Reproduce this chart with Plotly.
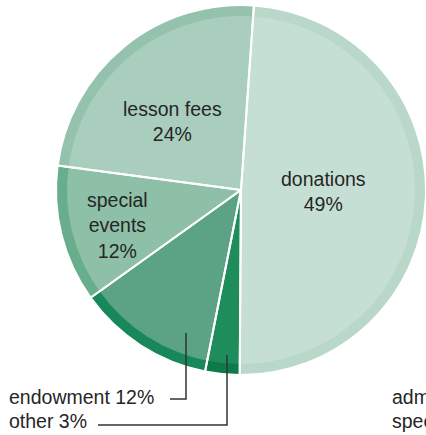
import plotly.graph_objects as go

# ---- data ----
labels = ["donations", "other", "endowment", "special events", "lesson fees"]
values = [49, 3, 12, 12, 24]
inside_text = ["donations<br>49%", None, None, "special<br>events<br>12%", "lesson fees<br>24%"]
callout_text = {"endowment": "endowment 12%", "other": "other 3%"}
cut_labels = ["administration", "special"]

# ---- styles ----
W, H = 426, 435
CX, CY, R = 241, 190, 185
RIM = 11
main_colors = ["#c6dfd4", "#1f8d5b", "#5ba384", "#8dc0a7", "#a9cebd"]
rim_colors = ["#b9d8ca", "#0d7b49", "#18885a", "#68ae8c", "#94c2ac"]
FONT = "Liberation Sans"
FS = 19.5
TXT = "#262626"
label_pos = {"donations": (323, 191), "special events": (117, 226), "lesson fees": (172, 121)}
ROT = 4

def px_x(x):
    return x / W

def px_y(y):
    return 1 - y / H

def dom(r):
    return dict(x=[px_x(CX - r), min(1.0, px_x(CX + r))], y=[px_y(CY + r), px_y(CY - r)])

fig = go.Figure()
common = dict(labels=labels, values=values, sort=False, direction="clockwise",
              rotation=ROT, textinfo="none", hoverinfo="label+percent", showlegend=False)
fig.add_trace(go.Pie(**common, domain=dom(R), marker=dict(colors=rim_colors, line=dict(width=0))))
fig.add_trace(go.Pie(**common, domain=dom(R - RIM), marker=dict(colors=main_colors, line=dict(width=0))))
fig.add_trace(go.Pie(**common, domain=dom(R),
                     marker=dict(colors=["rgba(0,0,0,0)"] * len(values), line=dict(color="white", width=2))))

annotations = []
for lab, t in zip(labels, inside_text):
    if t is None:
        continue
    x, y = label_pos[lab]
    annotations.append(dict(x=px_x(x), y=px_y(y), xref="paper", yref="paper", text=t,
                            showarrow=False, font=dict(family=FONT, size=FS, color=TXT),
                            xanchor="center", yanchor="middle"))

# callouts
annotations.append(dict(x=px_x(7), y=px_y(397), xref="paper", yref="paper", text=callout_text["endowment"],
                        showarrow=False, font=dict(family=FONT, size=FS, color=TXT), xanchor="left", yanchor="middle"))
annotations.append(dict(x=px_x(7), y=px_y(421), xref="paper", yref="paper", text=callout_text["other"],
                        showarrow=False, font=dict(family=FONT, size=FS, color=TXT), xanchor="left", yanchor="middle"))
for t, yy in zip(cut_labels, [397, 421]):
    annotations.append(dict(x=px_x(390), y=px_y(yy), xref="paper", yref="paper", text=t,
                            showarrow=False, font=dict(family=FONT, size=FS, color=TXT), xanchor="left", yanchor="middle"))

line = dict(color="#333333", width=1.5)
shapes = [
    dict(type="path", xref="paper", yref="paper",
         path=f"M {px_x(186)} {px_y(333)} L {px_x(186)} {px_y(399)} L {px_x(170)} {px_y(399)}", line=line),
    dict(type="path", xref="paper", yref="paper",
         path=f"M {px_x(227)} {px_y(355)} L {px_x(227)} {px_y(425)} L {px_x(98)} {px_y(425)}", line=line),
]

fig.update_layout(width=W, height=H, margin=dict(l=0, r=0, t=0, b=0),
                  paper_bgcolor="white", plot_bgcolor="white",
                  annotations=annotations, shapes=shapes)
fig.write_html("out.html", config={"displayModeBar": False},
               post_script="document.body.style.margin='0';document.body.style.overflow='hidden';")
